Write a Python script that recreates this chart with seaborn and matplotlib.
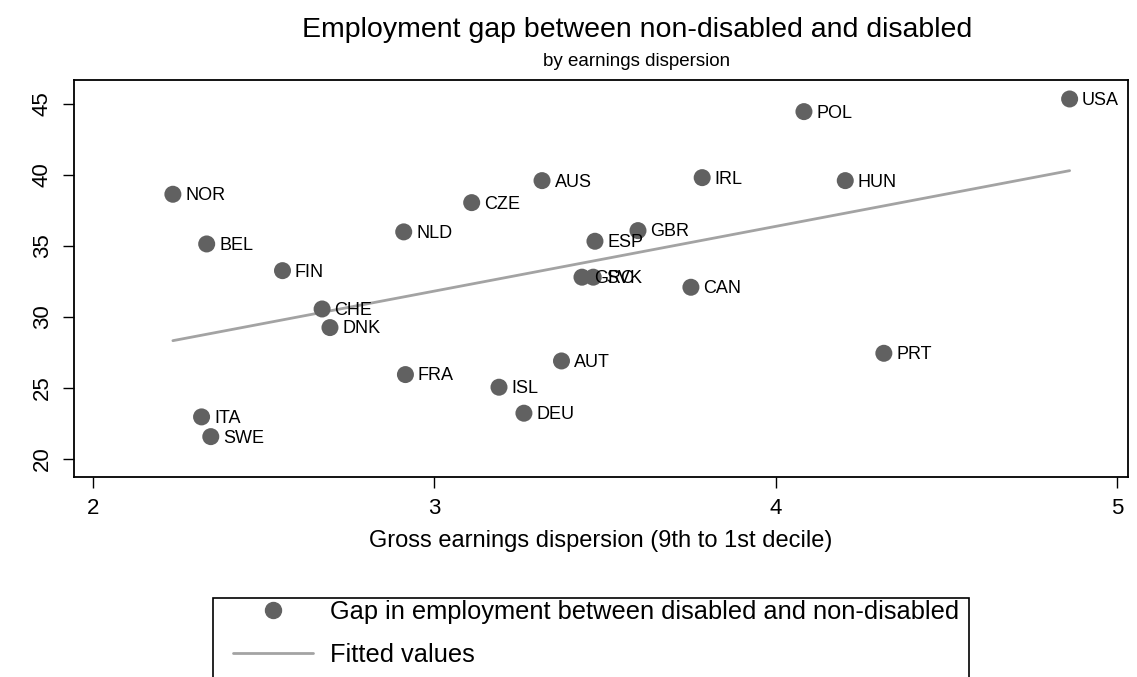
import numpy as np
import pandas as pd
import seaborn as sns
import matplotlib.pyplot as plt
from matplotlib.patches import Rectangle
from matplotlib.lines import Line2D

# donnees
countries = ['NOR', 'BEL', 'FIN', 'NLD', 'CHE', 'DNK', 'FRA', 'ITA', 'SWE', 'AUS',
             'CZE', 'IRL', 'ESP', 'GBR', 'GRC', 'SVK', 'CAN', 'AUT', 'ISL', 'DEU',
             'POL', 'HUN', 'USA', 'PRT']
dispersion = [2.234, 2.333, 2.555, 2.910, 2.671, 2.694, 2.915, 2.318, 2.345, 3.315,
              3.109, 3.784, 3.470, 3.596, 3.432, 3.465, 3.751, 3.372, 3.189, 3.262,
              4.082, 4.203, 4.860, 4.316]
gap = [38.64, 35.14, 33.26, 35.99, 30.56, 29.25, 25.94, 22.96, 21.57, 39.60,
       38.05, 39.81, 35.33, 36.08, 32.80, 32.80, 32.09, 26.90, 25.05, 23.22,
       44.46, 39.60, 45.35, 27.44]

x_ticks = [2, 3, 4, 5]
y_ticks = [20, 25, 30, 35, 40, 45]

df = pd.DataFrame({'country': countries, 'dispersion': dispersion, 'gap': gap})

sns.set_style('ticks')
plt.rcParams['font.family'] = ['Liberation Sans', 'DejaVu Sans']
plt.rcParams['text.color'] = 'black'
plt.rcParams['axes.labelcolor'] = 'black'

dot_color = '#616161'
line_color = '#a3a3a3'

fig = plt.figure(figsize=(11.37, 6.77), dpi=100)
ax = fig.add_axes([0.0648, 0.2959, 0.927, 0.586])

# droite de regression
sns.regplot(data=df, x='dispersion', y='gap', scatter=False, ci=None,
            color=line_color, line_kws={'lw': 2}, ax=ax)
sns.scatterplot(data=df, x='dispersion', y='gap', s=150, color=dot_color,
                edgecolor='none', ax=ax, zorder=3)

for _, row in df.iterrows():
    ax.annotate(row['country'], (row['dispersion'], row['gap']), xytext=(9, -1),
                textcoords='offset points', va='center', ha='left', fontsize=13)

ax.set_xlim(1.9435, 5.03)
ax.set_ylim(18.75, 46.69)
ax.set_xticks(x_ticks)
ax.set_yticks(y_ticks)
plt.setp(ax.get_yticklabels(), rotation=90, va='center')
ax.tick_params(length=8, width=1, pad=7, labelsize=16, colors='black')
for sp in ax.spines.values():
    sp.set_visible(True)
    sp.set_color('black')
    sp.set_linewidth(1.3)

ax.set_xlabel('Gross earnings dispersion (9th to 1st decile)', fontsize=17, labelpad=8)
ax.set_ylabel('')

fig.text(0.560, 1 - 30 / 677, 'Employment gap between non-disabled and disabled',
         ha='center', va='center', fontsize=20.5)
fig.text(0.560, 1 - 61 / 677, 'by earnings dispersion', ha='center', va='center', fontsize=13.5)

# legende (cadre coupe en bas comme dans l'original)
handles = [Line2D([], [], marker='o', ls='none', color=dot_color, markersize=11.5),
           Line2D([], [], color=line_color, lw=2)]
labels = ['Gap in employment between disabled and non-disabled', 'Fitted values']
fig.legend(handles, labels, loc='upper left', bbox_to_anchor=(233 / 1137, 1 - 600 / 677),
           frameon=False, fontsize=18.3, handlelength=3.15, handletextpad=0.67,
           labelspacing=0.73, borderpad=0.0, borderaxespad=0.0)
fig.add_artist(Rectangle((213 / 1137, -0.1), (969 - 213) / 1137, 0.1 + (1 - 598 / 677),
                         transform=fig.transFigure, fill=False, ec='black', lw=1.2))

fig.savefig('out.png', dpi=100)
